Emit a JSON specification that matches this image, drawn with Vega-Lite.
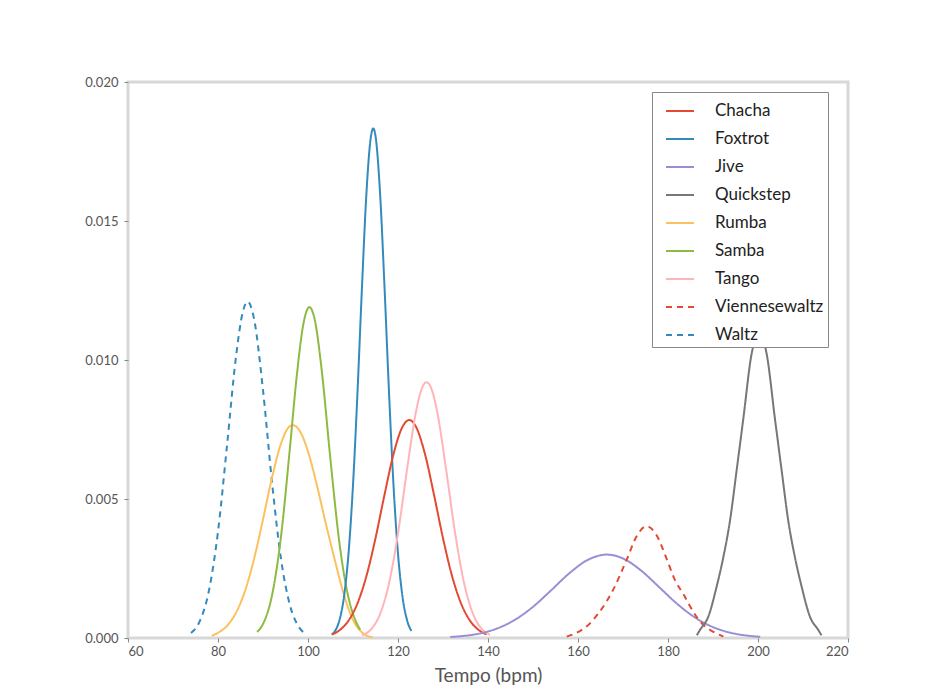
{
  "$schema": "https://vega.github.io/schema/vega-lite/v6.json",
  "autosize": {"type": "none"},
  "padding": {"left": 128, "top": 82, "right": 79, "bottom": 61},
  "width": 720,
  "height": 556,
  "background": "white",
  "config": {
    "view": {"stroke": "#d8d8d8", "strokeWidth": 3},
    "font": "Lato",
    "axis": {"domain": false, "grid": false, "tickColor": "#888", "tickSize": 4, "labelColor": "#555", "labelFont": "Lato", "labelFontSize": 13, "titleColor": "#555", "titleFont": "Lato", "titleFontWeight": "normal"}
  },
  "data": {"values": [
    {"d":"Waltz","t":74,"v":0.000182},{"d":"Waltz","t":76,"v":0.000622},{"d":"Waltz","t":78,"v":0.001715},{"d":"Waltz","t":80,"v":0.003827},{"d":"Waltz","t":82,"v":0.006919},{"d":"Waltz","t":84,"v":0.01012},{"d":"Waltz","t":85.5,"v":0.01172},{"d":"Waltz","t":86.6,"v":0.0121},{"d":"Waltz","t":88,"v":0.01149},{"d":"Waltz","t":90,"v":0.008914},{"d":"Waltz","t":92,"v":0.005603},{"d":"Waltz","t":94,"v":0.002847},{"d":"Waltz","t":96,"v":0.001171},{"d":"Waltz","t":98,"v":0.00039},{"d":"Waltz","t":99.5,"v":0.000149},
    {"d":"Rumba","t":78.6,"v":0.00008},{"d":"Rumba","t":80,"v":0.000189},{"d":"Rumba","t":82,"v":0.000437},{"d":"Rumba","t":84,"v":0.000908},{"d":"Rumba","t":86,"v":0.001692},{"d":"Rumba","t":88,"v":0.002836},{"d":"Rumba","t":90,"v":0.004267},{"d":"Rumba","t":92,"v":0.005765},{"d":"Rumba","t":94,"v":0.006995},{"d":"Rumba","t":95.5,"v":0.007537},{"d":"Rumba","t":96.6,"v":0.00766},{"d":"Rumba","t":98,"v":0.00749},{"d":"Rumba","t":100,"v":0.00671},{"d":"Rumba","t":102,"v":0.00548},{"d":"Rumba","t":104,"v":0.00409},{"d":"Rumba","t":106,"v":0.00278},{"d":"Rumba","t":108,"v":0.00155},{"d":"Rumba","t":110,"v":0.00065},{"d":"Rumba","t":112,"v":0.0002},{"d":"Rumba","t":114.4,"v":0.00002},
    {"d":"Samba","t":88.7,"v":0.000218},{"d":"Samba","t":90,"v":0.000507},{"d":"Samba","t":92,"v":0.001533},{"d":"Samba","t":94,"v":0.003653},{"d":"Samba","t":96,"v":0.006866},{"d":"Samba","t":97.5,"v":0.009425},{"d":"Samba","t":99,"v":0.01132},{"d":"Samba","t":100.3,"v":0.0119},{"d":"Samba","t":101.5,"v":0.01145},{"d":"Samba","t":103,"v":0.0097},{"d":"Samba","t":105,"v":0.0064},{"d":"Samba","t":107,"v":0.0034},{"d":"Samba","t":109,"v":0.00145},{"d":"Samba","t":110.5,"v":0.00065},{"d":"Samba","t":111.6,"v":0.0003},
    {"d":"Foxtrot","t":105.3,"v":0.00012},{"d":"Foxtrot","t":106,"v":0.00025},{"d":"Foxtrot","t":107,"v":0.000647},{"d":"Foxtrot","t":108,"v":0.001487},{"d":"Foxtrot","t":109,"v":0.003034},{"d":"Foxtrot","t":110,"v":0.0055},{"d":"Foxtrot","t":111,"v":0.008848},{"d":"Foxtrot","t":112,"v":0.01264},{"d":"Foxtrot","t":113,"v":0.01604},{"d":"Foxtrot","t":114,"v":0.01806},{"d":"Foxtrot","t":114.5,"v":0.01833},{"d":"Foxtrot","t":115,"v":0.01806},{"d":"Foxtrot","t":116,"v":0.01604},{"d":"Foxtrot","t":117,"v":0.01264},{"d":"Foxtrot","t":118,"v":0.008848},{"d":"Foxtrot","t":119,"v":0.0055},{"d":"Foxtrot","t":120,"v":0.003034},{"d":"Foxtrot","t":121,"v":0.001487},{"d":"Foxtrot","t":122,"v":0.000647},{"d":"Foxtrot","t":123,"v":0.00025},
    {"d":"Chacha","t":105.3,"v":0.000129},{"d":"Chacha","t":107,"v":0.000278},{"d":"Chacha","t":109,"v":0.000624},{"d":"Chacha","t":111,"v":0.001249},{"d":"Chacha","t":113,"v":0.002238},{"d":"Chacha","t":115,"v":0.003589},{"d":"Chacha","t":117,"v":0.005151},{"d":"Chacha","t":119,"v":0.006613},{"d":"Chacha","t":121,"v":0.007598},{"d":"Chacha","t":122.5,"v":0.00784},{"d":"Chacha","t":124,"v":0.007598},{"d":"Chacha","t":126,"v":0.006613},{"d":"Chacha","t":128,"v":0.005151},{"d":"Chacha","t":130,"v":0.003589},{"d":"Chacha","t":132,"v":0.002238},{"d":"Chacha","t":134,"v":0.001249},{"d":"Chacha","t":136,"v":0.000624},{"d":"Chacha","t":138,"v":0.000278},{"d":"Chacha","t":139.7,"v":0.000129},
    {"d":"Tango","t":112,"v":0.000096},{"d":"Tango","t":114,"v":0.000313},{"d":"Tango","t":116,"v":0.000857},{"d":"Tango","t":118,"v":0.001963},{"d":"Tango","t":120,"v":0.003765},{"d":"Tango","t":122,"v":0.006049},{"d":"Tango","t":124,"v":0.00814},{"d":"Tango","t":125.3,"v":0.008978},{"d":"Tango","t":126.35,"v":0.0092},{"d":"Tango","t":127.4,"v":0.008978},{"d":"Tango","t":128.7,"v":0.00814},{"d":"Tango","t":130.7,"v":0.006049},{"d":"Tango","t":132.7,"v":0.003765},{"d":"Tango","t":134.7,"v":0.001963},{"d":"Tango","t":136.7,"v":0.000857},{"d":"Tango","t":138.7,"v":0.000313},{"d":"Tango","t":140.4,"v":0.000116},
    {"d":"Jive","t":131.6,"v":0.000036},{"d":"Jive","t":134,"v":0.000065},{"d":"Jive","t":138,"v":0.000158},{"d":"Jive","t":142,"v":0.000341},{"d":"Jive","t":146,"v":0.000656},{"d":"Jive","t":150,"v":0.001123},{"d":"Jive","t":154,"v":0.001711},{"d":"Jive","t":158,"v":0.002318},{"d":"Jive","t":162,"v":0.002795},{"d":"Jive","t":166.4,"v":0.003},{"d":"Jive","t":170,"v":0.002861},{"d":"Jive","t":174,"v":0.002429},{"d":"Jive","t":178,"v":0.001835},{"d":"Jive","t":182,"v":0.001233},{"d":"Jive","t":186,"v":0.000737},{"d":"Jive","t":190,"v":0.000392},{"d":"Jive","t":194,"v":0.000186},{"d":"Jive","t":198,"v":0.000078},{"d":"Jive","t":200.5,"v":0.000043},
    {"d":"Viennesewaltz","t":157.5,"v":0.00005},{"d":"Viennesewaltz","t":160.4,"v":0.00025},{"d":"Viennesewaltz","t":162.5,"v":0.0005},{"d":"Viennesewaltz","t":164.5,"v":0.00088},{"d":"Viennesewaltz","t":166.3,"v":0.0013},{"d":"Viennesewaltz","t":167.8,"v":0.00173},{"d":"Viennesewaltz","t":170.8,"v":0.00281},{"d":"Viennesewaltz","t":173,"v":0.00365},{"d":"Viennesewaltz","t":175.25,"v":0.00402},{"d":"Viennesewaltz","t":177.5,"v":0.00369},{"d":"Viennesewaltz","t":179.7,"v":0.00285},{"d":"Viennesewaltz","t":181.5,"v":0.0021},{"d":"Viennesewaltz","t":183.4,"v":0.00158},{"d":"Viennesewaltz","t":186.4,"v":0.00075},{"d":"Viennesewaltz","t":188.2,"v":0.00042},{"d":"Viennesewaltz","t":190.1,"v":0.00022},{"d":"Viennesewaltz","t":192.3,"v":0.00005},
    {"d":"Quickstep","t":186.4,"v":0.0001},{"d":"Quickstep","t":187.1,"v":0.000288},{"d":"Quickstep","t":189,"v":0.000786},{"d":"Quickstep","t":190.8,"v":0.001845},{"d":"Quickstep","t":192.25,"v":0.00287},{"d":"Quickstep","t":193.8,"v":0.004245},{"d":"Quickstep","t":195.25,"v":0.00603},{"d":"Quickstep","t":196.7,"v":0.00784},{"d":"Quickstep","t":198.6,"v":0.01024},{"d":"Quickstep","t":200.25,"v":0.011},{"d":"Quickstep","t":201.9,"v":0.01024},{"d":"Quickstep","t":203.8,"v":0.00784},{"d":"Quickstep","t":205.25,"v":0.00603},{"d":"Quickstep","t":206.7,"v":0.004245},{"d":"Quickstep","t":208.25,"v":0.00287},{"d":"Quickstep","t":209.7,"v":0.001845},{"d":"Quickstep","t":211.5,"v":0.000786},{"d":"Quickstep","t":213.4,"v":0.000288},{"d":"Quickstep","t":214.1,"v":0.0001}
  ]},
  "mark": {"type": "line", "interpolate": "monotone", "strokeWidth": 2},
  "encoding": {
    "x": {"field": "t", "type": "quantitative", "title": "Tempo (bpm)",
      "scale": {"domain": [60, 220], "nice": false, "zero": false},
      "axis": {"values": [60, 80, 100, 120, 140, 160, 180, 200, 220], "titleFontSize": 19, "titlePadding": 8, "labelPadding": 3}},
    "y": {"field": "v", "type": "quantitative", "title": null,
      "scale": {"domain": [0, 0.02], "nice": false},
      "axis": {"values": [0, 0.005, 0.01, 0.015, 0.02], "format": ".3f", "labelPadding": 6}},
    "color": {"field": "d", "type": "nominal", "title": null,
      "scale": {"domain": ["Chacha","Foxtrot","Jive","Quickstep","Rumba","Samba","Tango","Viennesewaltz","Waltz"],
        "range": ["#E24A33","#348ABD","#988ED5","#777777","#FBC15E","#8EBA42","#FFB5B8","#E24A33","#348ABD"]},
      "legend": {"orient": "none", "legendX": 524, "legendY": 10, "symbolType": "stroke", "symbolSize": 784, "symbolStrokeWidth": 2, "labelFontSize": 17, "labelColor": "#222", "labelFont": "Lato", "labelOffset": 20, "padding": 4, "symbolOffset": 9, "rowPadding": 5, "fillColor": "white", "strokeColor": "#888"}},
    "strokeDash": {"field": "d", "type": "nominal", "title": null,
      "scale": {"domain": ["Chacha","Foxtrot","Jive","Quickstep","Rumba","Samba","Tango","Viennesewaltz","Waltz"],
        "range": [[1,0],[1,0],[1,0],[1,0],[1,0],[1,0],[1,0],[6,5],[6,5]]}}
  }
}
